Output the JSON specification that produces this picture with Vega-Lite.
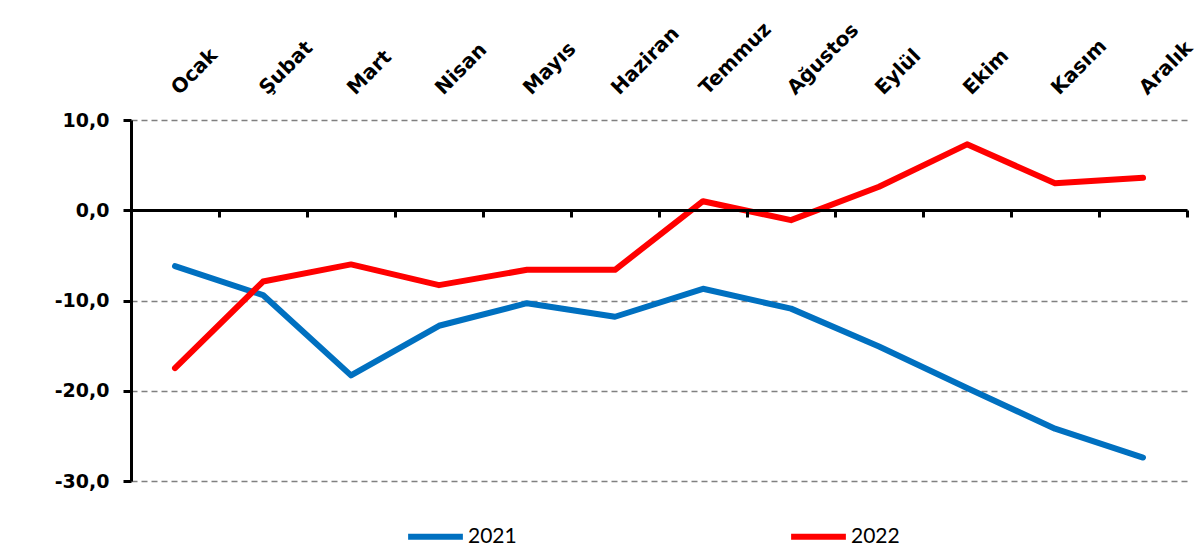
{
  "$schema": "https://vega.github.io/schema/vega-lite/v6.json",
  "autosize": {"type": "none"},
  "padding": {"left": 131, "top": 120, "right": 17, "bottom": 77},
  "width": 1056,
  "height": 361,
  "background": "white",
  "config": {
    "view": {"stroke": null},
    "font": "DejaVu Sans"
  },
  "data": {
    "values": [
      {"ay": "Ocak", "yil": "2021", "deger": -6.2},
      {"ay": "Şubat", "yil": "2021", "deger": -9.4},
      {"ay": "Mart", "yil": "2021", "deger": -18.3},
      {"ay": "Nisan", "yil": "2021", "deger": -12.8},
      {"ay": "Mayıs", "yil": "2021", "deger": -10.3},
      {"ay": "Haziran", "yil": "2021", "deger": -11.8},
      {"ay": "Temmuz", "yil": "2021", "deger": -8.7},
      {"ay": "Ağustos", "yil": "2021", "deger": -10.9},
      {"ay": "Eylül", "yil": "2021", "deger": -15.1},
      {"ay": "Ekim", "yil": "2021", "deger": -19.7},
      {"ay": "Kasım", "yil": "2021", "deger": -24.2},
      {"ay": "Aralık", "yil": "2021", "deger": -27.4},
      {"ay": "Ocak", "yil": "2022", "deger": -17.5},
      {"ay": "Şubat", "yil": "2022", "deger": -7.9},
      {"ay": "Mart", "yil": "2022", "deger": -6.0},
      {"ay": "Nisan", "yil": "2022", "deger": -8.3},
      {"ay": "Mayıs", "yil": "2022", "deger": -6.6},
      {"ay": "Haziran", "yil": "2022", "deger": -6.6},
      {"ay": "Temmuz", "yil": "2022", "deger": 1.0},
      {"ay": "Ağustos", "yil": "2022", "deger": -1.1},
      {"ay": "Eylül", "yil": "2022", "deger": 2.6},
      {"ay": "Ekim", "yil": "2022", "deger": 7.3},
      {"ay": "Kasım", "yil": "2022", "deger": 3.0},
      {"ay": "Aralık", "yil": "2022", "deger": 3.6}
    ]
  },
  "layer": [
    {
      "mark": {"type": "point", "opacity": 0},
      "encoding": {
        "x": {
          "field": "ay", "type": "ordinal", "sort": null,
          "scale": {"type": "band", "paddingInner": 0, "paddingOuter": 0},
          "axis": {
            "orient": "bottom", "offset": -271, "title": null,
            "labels": false, "grid": false,
            "domain": true, "domainColor": "black", "domainWidth": 3,
            "ticks": true, "tickColor": "black", "tickWidth": 3, "tickSize": 7,
            "tickBand": "extent", "zindex": 1
          }
        },
        "y": {"field": "deger", "type": "quantitative"}
      }
    },
    {
      "mark": {"type": "line", "strokeWidth": 6, "strokeCap": "round", "strokeJoin": "round"},
      "encoding": {
        "x": {
          "field": "ay", "type": "ordinal", "sort": null,
          "axis": {
            "orient": "top", "title": null, "domain": false, "ticks": false, "grid": false,
            "labelAngle": -45, "labelFont": "DejaVu Sans", "labelFontWeight": "bold",
            "labelFontSize": 20, "labelColor": "black", "labelPadding": 22, "labelOffset": 7
          }
        },
        "y": {
          "field": "deger", "type": "quantitative",
          "scale": {"domain": [-30, 10], "nice": false, "zero": false},
          "axis": {
            "title": null, "values": [10, 0, -10, -20, -30],
            "labelExpr": "replace(replace(format(datum.value, '.1f'), '.', ','), '−', '-')",
            "labelFont": "DejaVu Sans", "labelFontWeight": "bold", "labelFontSize": 19,
            "labelColor": "black", "labelPadding": 14,
            "domain": true, "domainColor": "black", "domainWidth": 3,
            "ticks": true, "tickColor": "black", "tickWidth": 3, "tickSize": 8,
            "grid": true, "gridColor": "#808080", "gridDash": [6, 4], "gridWidth": 1.5
          }
        },
        "color": {
          "field": "yil", "type": "nominal",
          "scale": {"domain": ["2021", "2022"], "range": ["#0070C0", "#FF0000"]},
          "legend": {
            "title": null, "orient": "none", "legendX": 274, "legendY": 386,
            "direction": "horizontal",
            "symbolType": "stroke", "symbolStrokeWidth": 6, "symbolSize": 3000,
            "labelFont": "Lato", "labelFontSize": 21, "labelColor": "black",
            "columnPadding": 262, "labelOffset": 2
          }
        }
      }
    }
  ]
}
